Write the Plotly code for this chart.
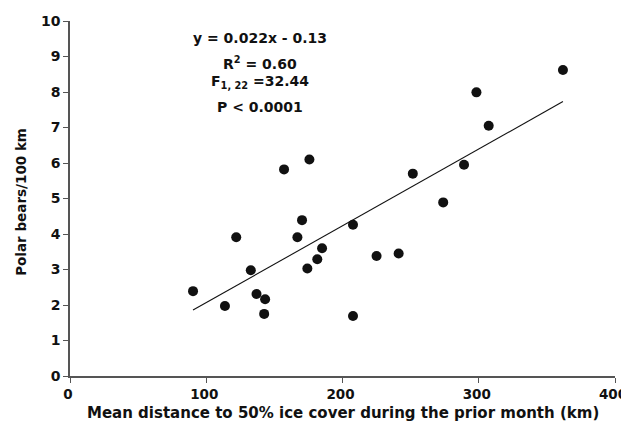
import numpy as np
import plotly.graph_objects as go

# Data
distance_km = [90.3, 113.7, 122.0, 132.7, 136.9, 143.2, 142.5, 166.9, 170.3, 174.2,
               181.5, 185.0, 207.7, 207.7, 225.0, 241.2, 251.6, 273.9, 289.2, 298.3,
               307.3, 361.8, 157.1, 175.7]
bears_per_100km = [2.39, 1.97, 3.91, 2.98, 2.31, 2.16, 1.75, 3.91, 4.39, 3.03,
                   3.29, 3.60, 4.26, 1.69, 3.38, 3.45, 5.70, 4.89, 5.95, 7.99,
                   7.05, 8.62, 5.82, 6.10]
stats_lines = ["y = 0.022x - 0.13", "R<sup>2</sup> = 0.60",
               "F<sub>1, 22</sub> =32.44", "P &lt; 0.0001"]
x_ticks = [0, 100, 200, 300, 400]
y_ticks = list(range(0, 11))
x_title = "Mean distance to 50% ice cover during the prior month (km)"
y_title = "Polar bears/100 km"

x = np.array(distance_km)
y = np.array(bears_per_100km)
slope, intercept = np.polyfit(x, y, 1)
line_x = np.array([x.min(), x.max()])
line_y = slope * line_x + intercept

font_family = "DejaVu Sans, sans-serif"
ink = "#111111"
axis_col = "#555555"

fig = go.Figure()
fig.add_trace(go.Scatter(x=line_x, y=line_y, mode="lines",
                         line=dict(color=ink, width=1.1), showlegend=False))
fig.add_trace(go.Scatter(x=x, y=y, mode="markers",
                         marker=dict(color=ink, size=10), showlegend=False))

# statistics block (vertical pixel positions in the page)
for txt, py in zip(stats_lines, [38, 63, 82, 106.5]):
    fig.add_annotation(x=139.3, y=(376 - py) / 35.5, xref="x", yref="y",
                       text="<b>" + txt + "</b>", showarrow=False,
                       font=dict(size=14, color=ink, family=font_family),
                       xanchor="center", yanchor="middle")

# axis titles
fig.add_annotation(x=0.5, y=-0.104, xref="paper", yref="paper", text="<b>" + x_title + "</b>",
                   showarrow=False, xanchor="center", yanchor="middle",
                   font=dict(size=15, color=ink, family=font_family))
fig.add_annotation(x=-0.0897, y=0.491, xref="paper", yref="paper", text="<b>" + y_title + "</b>",
                   showarrow=False, xanchor="center", yanchor="middle", textangle=-90,
                   font=dict(size=13.5, color=ink, family=font_family))

# page body adds an 8px margin, so the figure is sized to fit the window from there
fig.update_layout(
    width=621, height=415,
    margin=dict(l=61.5, r=13.5, t=13, b=47),
    paper_bgcolor="white", plot_bgcolor="white",
    font=dict(family=font_family, color=ink),
)
fig.update_xaxes(range=[0, 400], tickvals=x_ticks, ticktext=["<b>%d</b>" % v for v in x_ticks],
                 automargin=False, showgrid=False, zeroline=False, showline=True,
                 linecolor=axis_col, linewidth=1.5, ticklabeloverflow="allow",
                 ticklabelshift=-2,
                 ticks="outside", ticklen=5, tickcolor=axis_col, tickwidth=1,
                 tickfont=dict(size=13.5, family=font_family, color=ink))
fig.update_yaxes(range=[0, 10], tickvals=y_ticks, ticktext=["<b>%d</b>" % v for v in y_ticks],
                 automargin=False, showgrid=False, zeroline=False, showline=True,
                 linecolor=axis_col, linewidth=1.5, ticklabeloverflow="allow",
                 ticks="outside", ticklen=5, tickcolor=axis_col, tickwidth=1,
                 tickfont=dict(size=14, family=font_family, color=ink))

fig.write_html("out.html")
